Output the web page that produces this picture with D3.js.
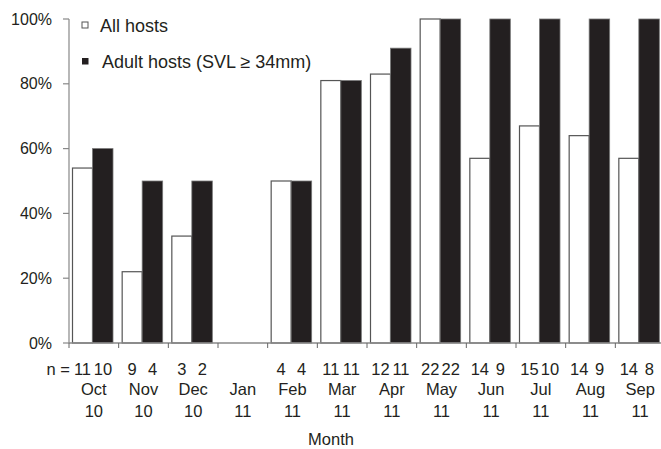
<!DOCTYPE html>
<html><head><meta charset="utf-8">
<script src="https://cdn.jsdelivr.net/npm/d3@7"></script>
<style>body{margin:0;background:#fff}svg{display:block}text{font-family:"Liberation Sans",Arial,sans-serif;fill:#231f20}</style>
</head><body>
<script>
const months = ["Oct","Nov","Dec","Jan","Feb","Mar","Apr","May","Jun","Jul","Aug","Sep"];
const years = ["10","10","10","11","11","11","11","11","11","11","11","11"];
const allHosts = [54,22,33,0,50,81,83,100,57,67,64,57];
const adultHosts = [60,50,50,0,50,81,91,100,100,100,100,100];
const nAll = ["11","9","3","","4","11","12","22","14","15","14","14"];
const nAdult = ["10","4","2","","4","11","11","22","9","10","9","8"];
const yTicks = [0,20,40,60,80,100];
const seriesNames = ["All hosts","Adult hosts (SVL \u2265 34mm)"];

const W=661,H=449;
const svg=d3.select("body").append("svg").attr("width",W).attr("height",H);
const x=d3.scaleBand().domain(months).range([69,665]).padding(0);
const y=d3.scaleLinear().domain([0,100]).range([343,19]);
const bw=x.bandwidth();
const dark="#231f20";

// y axis
svg.append("line").attr("x1",69).attr("x2",69).attr("y1",y(100)).attr("y2",y(0)).attr("stroke","#888").attr("stroke-width",1.2);
yTicks.forEach(t=>{
  svg.append("line").attr("x1",63).attr("x2",69).attr("y1",y(t)).attr("y2",y(t)).attr("stroke","#888").attr("stroke-width",1.2);
  svg.append("text").attr("x",52).attr("y",y(t)).attr("dy","0.35em").attr("text-anchor","end").attr("font-size",16).text(t+"%");
});

// bars
months.forEach((m,i)=>{
  const b=x(m);
  if(allHosts[i]>0) svg.append("rect").attr("x",b+3.5).attr("y",y(allHosts[i])).attr("width",20).attr("height",y(0)-y(allHosts[i])).attr("fill","#fff").attr("stroke","#555").attr("stroke-width",1.2);
  if(adultHosts[i]>0) svg.append("rect").attr("x",b+23.5).attr("y",y(adultHosts[i])).attr("width",20.5).attr("height",y(0)-y(adultHosts[i])).attr("fill",dark).attr("stroke","#777").attr("stroke-width",0.8);
});

// x axis
svg.append("line").attr("x1",69).attr("x2",665).attr("y1",y(0)).attr("y2",y(0)).attr("stroke","#888").attr("stroke-width",1.5);
months.forEach(m=>{
  svg.append("line").attr("x1",x(m)).attr("x2",x(m)).attr("y1",y(0)).attr("y2",y(0)+5).attr("stroke","#666").attr("stroke-width",1);
});

// n labels and month labels
svg.append("text").attr("x",70).attr("y",375).attr("text-anchor","end").attr("font-size",16.5).text("n =");
months.forEach((m,i)=>{
  const b=x(m);
  svg.append("text").attr("x",b+13.5).attr("y",375).attr("text-anchor","middle").attr("font-size",16.5).text(nAll[i]);
  svg.append("text").attr("x",b+34).attr("y",375).attr("text-anchor","middle").attr("font-size",16.5).text(nAdult[i]);
  svg.append("text").attr("x",b+bw/2).attr("y",395).attr("text-anchor","middle").attr("font-size",16.5).text(m);
  svg.append("text").attr("x",b+bw/2).attr("y",417).attr("text-anchor","middle").attr("font-size",16.5).text(years[i]);
});
svg.append("text").attr("x",331).attr("y",445).attr("text-anchor","middle").attr("font-size",16.5).text("Month");

// legend
svg.append("rect").attr("x",82).attr("y",22).attr("width",6).attr("height",6).attr("fill","#fff").attr("stroke","#555").attr("stroke-width",1);
svg.append("text").attr("x",100).attr("y",32).attr("font-size",18).text(seriesNames[0]);
svg.append("rect").attr("x",82).attr("y",58).attr("width",6.5).attr("height",6.5).attr("fill",dark);
svg.append("text").attr("x",102).attr("y",68).attr("font-size",18).text(seriesNames[1]);
</script>
</body></html>
